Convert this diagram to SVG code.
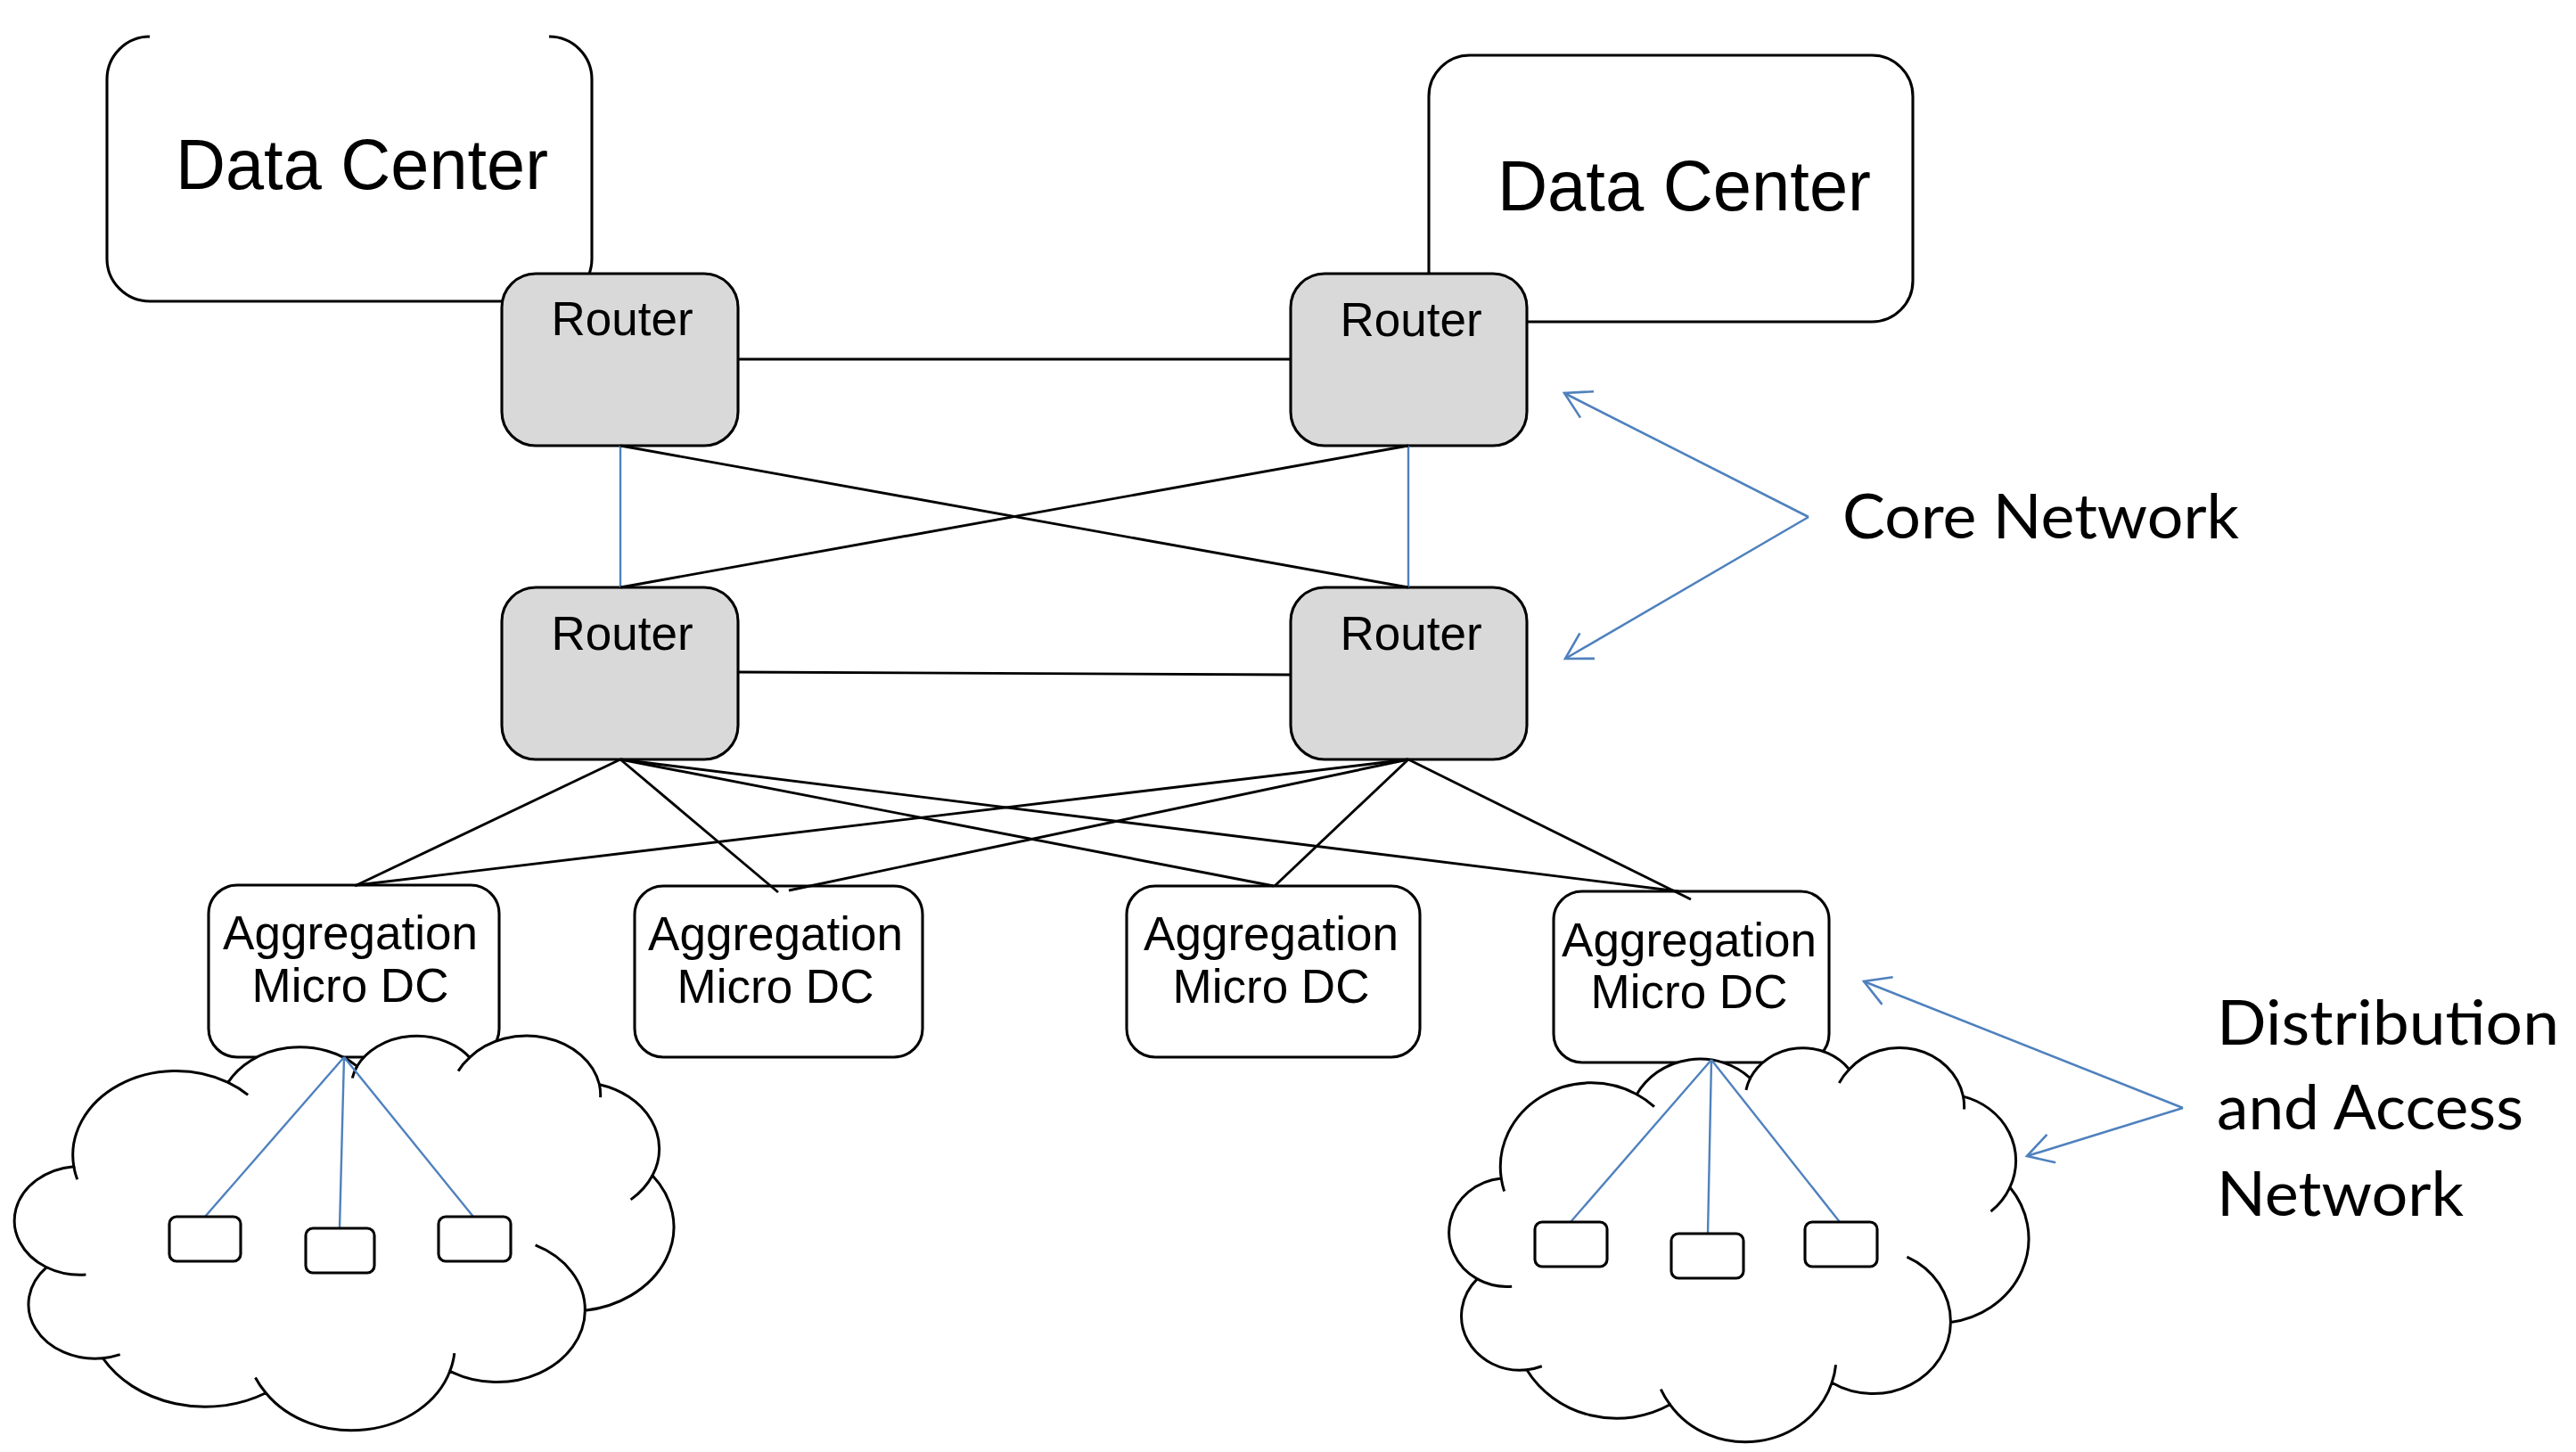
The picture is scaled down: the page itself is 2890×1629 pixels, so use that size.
<svg xmlns="http://www.w3.org/2000/svg" xmlns:xlink="http://www.w3.org/1999/xlink" width="2890" height="1629" viewBox="0 0 2890 1629">
<style>
.box{fill:#fff;stroke:#000;stroke-width:3.1}
.router{fill:#d9d9d9;stroke:#000;stroke-width:3.1}
.lbl{font-family:"Liberation Sans",Arial,sans-serif;fill:#000}
.dc{font-size:80px}
.rt{font-size:53px;text-anchor:middle}
.ag{font-size:53px;text-anchor:middle}
.blk{stroke:#000;stroke-width:2.9;fill:none}
.blu{stroke:#4f81bd;stroke-width:2.4;fill:none}
.arr{stroke:#4f81bd;stroke-width:2.6;fill:none;marker-end:url(#vhead)}
.note{font-family:Lato,"Open Sans",sans-serif;font-size:70px;fill:#000}
.cl{fill:#fff;stroke:#000;stroke-width:3;vector-effect:non-scaling-stroke}
.cli{fill:none;stroke:#000;stroke-width:3;vector-effect:non-scaling-stroke}
</style>
<defs>
<marker id="vhead" viewBox="-36 -20 40 40" markerWidth="40" markerHeight="40" refX="0" refY="0" orient="auto" markerUnits="userSpaceOnUse">
<path d="M -28.6 -16.5 L 0 0 L -28.6 16.5" fill="none" stroke="#4f81bd" stroke-width="2.6"/>
</marker>
<g id="cloud">
<path class="cl" d="M 3900 14370 A 6753 9190 0 0 1 14000 5192 A 5333 7267 0 0 1 22451 3422 A 4365 5945 0 0 1 29829 2471 A 4857 6595 0 0 1 38324 5426 A 5333 7273 0 0 1 41798 15354 A 6775 9220 0 0 1 37383 30096 A 5785 7867 0 0 1 28534 36706 A 6752 9215 0 0 1 16478 39090 A 7720 10543 0 0 1 5801 35293 A 4360 5918 0 0 1 2110 25371 A 4345 5945 0 0 1 3900 14370 Z"/>
<path class="cli" d="M 4693 26177 A 4345 5945 0 0 1 2110 25371 M 6928 34899 A 4360 5918 0 0 1 5801 35293 M 16478 39090 A 6752 9215 0 0 1 15790 37415 M 28827 34751 A 6752 9215 0 0 1 28534 36706 M 34129 22954 A 5785 7867 0 0 1 37383 30096 M 41798 15354 A 5333 7273 0 0 1 40377 17986 M 38324 5426 A 4857 6595 0 0 1 38391 6829 M 29078 3952 A 4857 6595 0 0 1 29829 2471 M 22141 4720 A 4365 5945 0 0 1 22451 3422 M 14000 5192 A 6753 9190 0 0 1 15305 6551 M 4127 15789 A 6753 9190 0 0 1 3900 14370"/>
</g>
</defs>
<rect width="2890" height="1629" fill="#fff"/>

<g id="datacenter-1">
<path class="box" d="M 616 41 A 48 48 0 0 1 664 89 L 664 290 A 48 48 0 0 1 616 338 L 168 338 A 48 48 0 0 1 120 290 L 120 89 A 48 48 0 0 1 168 41"/>
<text class="lbl dc" x="197" y="212" textLength="418" lengthAdjust="spacingAndGlyphs">Data Center</text>
</g>
<g id="datacenter-2">
<rect class="box" x="1603" y="62" width="543" height="299" rx="46"/>
<text class="lbl dc" x="1680" y="236" textLength="419" lengthAdjust="spacingAndGlyphs">Data Center</text>
</g>

<g id="router-1">
<rect class="router" x="563" y="307" width="265" height="193" rx="38"/>
<text class="lbl rt" x="698" y="376">Router</text>
</g>
<g id="router-2">
<rect class="router" x="1448" y="307" width="265" height="193" rx="38"/>
<text class="lbl rt" x="1583" y="377">Router</text>
</g>
<g id="router-3">
<rect class="router" x="563" y="659" width="265" height="193" rx="38"/>
<text class="lbl rt" x="698" y="729">Router</text>
</g>
<g id="router-4">
<rect class="router" x="1448" y="659" width="265" height="193" rx="38"/>
<text class="lbl rt" x="1583" y="729">Router</text>
</g>

<g id="agg-1">
<rect class="box" x="234" y="993" width="326" height="193" rx="32"/>
<text class="lbl ag" x="393" y="1065">Aggregation</text>
<text class="lbl ag" x="393" y="1124">Micro DC</text>
</g>
<g id="agg-2">
<rect class="box" x="712" y="994" width="323" height="192" rx="32"/>
<text class="lbl ag" x="870" y="1066">Aggregation</text>
<text class="lbl ag" x="870" y="1125">Micro DC</text>
</g>
<g id="agg-3">
<rect class="box" x="1264" y="994" width="329" height="192" rx="32"/>
<text class="lbl ag" x="1426" y="1066">Aggregation</text>
<text class="lbl ag" x="1426" y="1125">Micro DC</text>
</g>
<g id="agg-4">
<rect class="box" x="1743" y="1000" width="309" height="192" rx="32"/>
<text class="lbl ag" x="1895" y="1073">Aggregation</text>
<text class="lbl ag" x="1895" y="1131">Micro DC</text>
</g>

<g id="cloud-left">
<use xlink:href="#cloud" href="#cloud" transform="translate(16 1161) scale(0.0171296 0.0102778)"/>
</g>
<g id="cloud-right">
<use xlink:href="#cloud" href="#cloud" transform="translate(1625.5 1174.4) scale(0.0150579 0.0102685)"/>
</g>

<g id="connectors">
<path class="blk" d="M 828 403 L 1448 403"/>
<path class="blk" d="M 828 754 L 1448 757"/>
<path class="blu" d="M 696 500 L 696 659"/>
<path class="blu" d="M 1580 500 L 1580 659"/>
<path class="blk" d="M 696 500 L 1580 659"/>
<path class="blk" d="M 1580 500 L 696 659"/>
<path class="blk" d="M 696 852 L 398 994"/>
<path class="blk" d="M 696 852 L 873 1001"/>
<path class="blk" d="M 696 852 L 1429 994"/>
<path class="blk" d="M 696 852 L 1883 1000"/>
<path class="blk" d="M 1580 852 L 400 993"/>
<path class="blk" d="M 1580 852 L 885 999"/>
<path class="blk" d="M 1580 852 L 1430 994"/>
<path class="blk" d="M 1580 852 L 1897 1009"/>
<path class="blu" d="M 386 1186 L 230 1365"/>
<path class="blu" d="M 386 1186 L 381 1378"/>
<path class="blu" d="M 386 1186 L 531 1365"/>
<path class="blu" d="M 1920 1189 L 1762 1371"/>
<path class="blu" d="M 1920 1189 L 1916 1384"/>
<path class="blu" d="M 1920 1189 L 2064 1371"/>
<path class="arr" d="M 2029 580 L 1755 441"/>
<path class="arr" d="M 2029 580 L 1756 739"/>
<path class="arr" d="M 2449 1243 L 2091 1101"/>
<path class="arr" d="M 2449 1243 L 2274 1297"/>
</g>

<g id="device-l1"><rect class="box" x="190" y="1365" width="80" height="50" rx="8"/></g>
<g id="device-l2"><rect class="box" x="343" y="1378" width="77" height="50" rx="8"/></g>
<g id="device-l3"><rect class="box" x="492" y="1365" width="81" height="50" rx="8"/></g>
<g id="device-r1"><rect class="box" x="1722" y="1371" width="81" height="50" rx="8"/></g>
<g id="device-r2"><rect class="box" x="1875" y="1384" width="81" height="50" rx="8"/></g>
<g id="device-r3"><rect class="box" x="2025" y="1371" width="81" height="50" rx="8"/></g>

<g id="label-core">
<text class="note" x="2067" y="604" textLength="445" lengthAdjust="spacingAndGlyphs">Core Network</text>
</g>
<g id="label-distribution">
<text class="note" x="2487" y="1172" textLength="384" lengthAdjust="spacingAndGlyphs">Distribution</text>
<text class="note" x="2487" y="1267" textLength="344" lengthAdjust="spacingAndGlyphs">and Access</text>
<text class="note" x="2487" y="1364" textLength="277" lengthAdjust="spacingAndGlyphs">Network</text>
</g>
</svg>
